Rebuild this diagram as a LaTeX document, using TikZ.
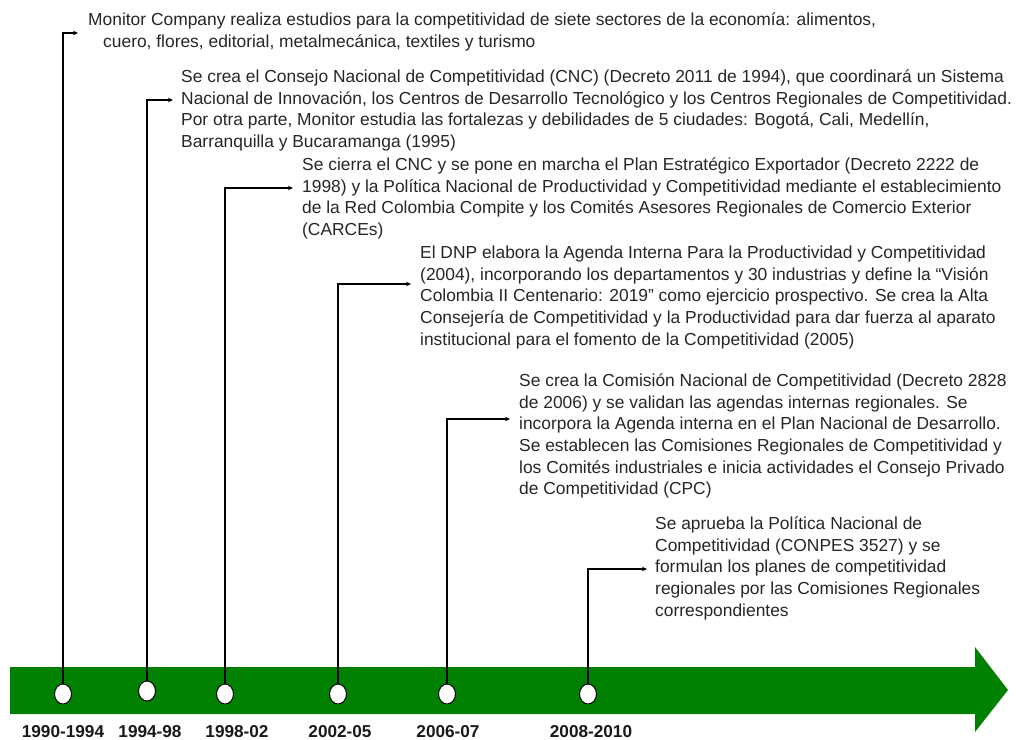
\documentclass[tikz,border=0pt]{standalone}
\usepackage{fontspec}
\setmainfont{Liberation Sans}
\usetikzlibrary{shapes.geometric,arrows.meta}
\definecolor{bargreen}{RGB}{0,128,0}
\newcommand{\fst}{\rule{0pt}{14.5pt}}
\tikzset{
  evtext/.style={anchor=north west, inner sep=0pt, align=left,
    font=\fontsize{17.4}{21.6}\selectfont, text=black!85},
  yearlbl/.style={anchor=base, inner sep=0pt, font=\fontsize{17.2}{18}\selectfont\bfseries, text=black!90},
  dot/.style={ellipse, draw=black, line width=1pt, fill=white, minimum width=17pt, minimum height=20pt, inner sep=0pt},
  conn/.style={draw=black, line width=1.1pt, -{Stealth[length=5pt,width=4.5pt]}},
}
\begin{document}
\begin{tikzpicture}[x=1pt,y=-1pt]
\useasboundingbox (0,0) rectangle (1016,739);
% green arrow
\fill[bargreen] (10,667) -- (975,667) -- (975,647) -- (1008,690) -- (975,732) -- (975,714) -- (10,714) -- cycle;
% circles
\node[dot] (c1) at (63,694) {};
\node[dot] (c2) at (147,691) {};
\node[dot] (c3) at (225,694) {};
\node[dot] (c4) at (338,694) {};
\node[dot] (c5) at (447,694) {};
\node[dot] (c6) at (588,694) {};
% year labels
\node[yearlbl] (y1) at (63,737) {1990-1994};
\node[yearlbl] (y2) at (150,737) {1994-98};
\node[yearlbl] (y3) at (237,737) {1998-02};
\node[yearlbl] (y4) at (340,737) {2002-05};
\node[yearlbl] (y5) at (448,737) {2006-07};
\node[yearlbl] (y6) at (591,737) {2008-2010};
% texts
\node[evtext] (t1) at (88,11) {\fst Monitor Company realiza estudios para la competitividad de siete sectores de la economía: alimentos,\\\hspace*{15pt}cuero, flores, editorial, metalmecánica, textiles y turismo};
\node[evtext] (t2) at (181,68) {\fst Se crea el Consejo Nacional de Competitividad (CNC) (Decreto 2011 de 1994), que coordinará un Sistema\\Nacional de Innovación, los Centros de Desarrollo Tecnológico y los Centros Regionales de Competitividad.\\Por otra parte, Monitor estudia las fortalezas y debilidades de 5 ciudades: Bogotá, Cali, Medellín,\\Barranquilla y Bucaramanga (1995)};
\node[evtext] (t3) at (302,156) {\fst Se cierra el CNC y se pone en marcha el Plan Estratégico Exportador (Decreto 2222 de\\1998) y la Política Nacional de Productividad y Competitividad mediante el establecimiento\\de la Red Colombia Compite y los Comités Asesores Regionales de Comercio Exterior\\(CARCEs)};
\node[evtext] (t4) at (420,244) {\fst El DNP elabora la Agenda Interna Para la Productividad y Competitividad\\(2004), incorporando los departamentos y 30 industrias y define la “Visión\\Colombia II Centenario: 2019” como ejercicio prospectivo. Se crea la Alta\\Consejería de Competitividad y la Productividad para dar fuerza al aparato\\institucional para el fomento de la Competitividad (2005)};
\node[evtext] (t5) at (519,372) {\fst Se crea la Comisión Nacional de Competitividad (Decreto 2828\\de 2006) y se validan las agendas internas regionales. Se\\incorpora la Agenda interna en el Plan Nacional de Desarrollo.\\Se establecen las Comisiones Regionales de Competitividad y\\los Comités industriales e inicia actividades el Consejo Privado\\de Competitividad (CPC)};
\node[evtext] (t6) at (655,515) {\fst Se aprueba la Política Nacional de\\Competitividad (CONPES 3527) y se\\formulan los planes de competitividad\\regionales por las Comisiones Regionales\\correspondientes};
% arrow end points
\coordinate (a1) at (78,33);
\coordinate (a2) at (173,100);
\coordinate (a3) at (293,188);
\coordinate (a4) at (411,284);
\coordinate (a5) at (510,419);
\coordinate (a6) at (647,569);
% connectors
\draw[conn] (c1.north) |- (a1);
\draw[conn] (c2.north) |- (a2);
\draw[conn] (c3.north) |- (a3);
\draw[conn] (c4.north) |- (a4);
\draw[conn] (c5.north) |- (a5);
\draw[conn] (c6.north) |- (a6);
\end{tikzpicture}
\end{document}
